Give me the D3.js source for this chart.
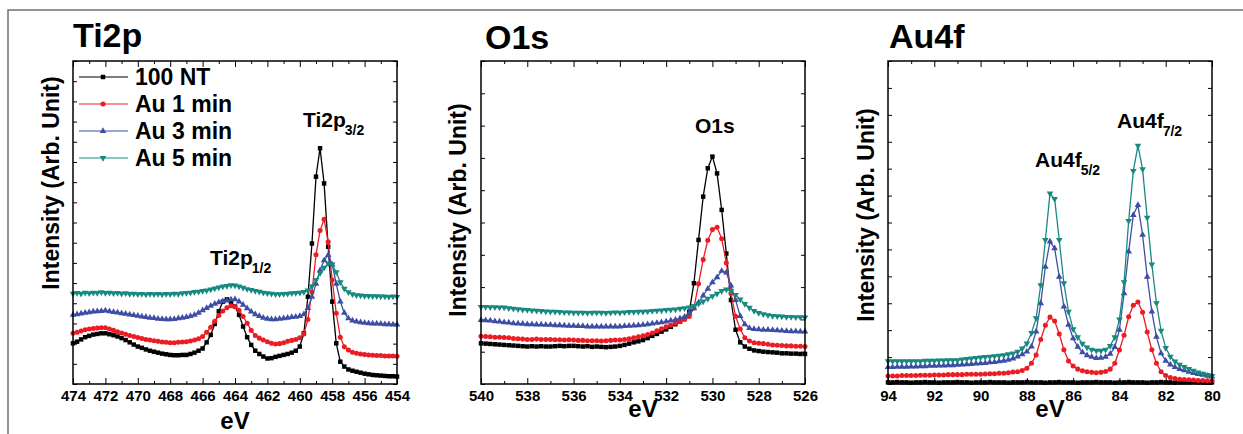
<!DOCTYPE html>
<html lang="en">
<head>
<meta charset="UTF-8">
<title>XPS spectra</title>
<script src="https://d3js.org/d3.v7.min.js"></script>
<style>
    body { margin: 0; background: #fff; }
    svg text { font-family: "Liberation Sans", Arial, sans-serif; font-weight: bold; }
    .tick line { stroke: #000; stroke-width: 1; }
    .box { fill: none; stroke: #000; stroke-width: 1.5; }
</style>
</head>
<body>
<svg id="fig" width="1243" height="434"></svg>
<script>
// series names + colours
const seriesNames = ["100 NT", "Au 1 min", "Au 3 min", "Au 5 min"];
const seriesColors = ["#000000", "#ec1c24", "#3d4ea6", "#178a80"];

// ---- Ti2p ----
const ti2pEnergy = [474,473.75,473.5,473.25,473,472.75,472.5,472.25,472,471.75,471.5,471.25,471,470.75,470.5,470.25,470,469.75,469.5,469.25,469,468.75,468.5,468.25,468,467.75,467.5,467.25,467,466.75,466.5,466.25,466,465.75,465.5,465.25,465,464.75,464.5,464.25,464,463.75,463.5,463.25,463,462.75,462.5,462.25,462,461.75,461.5,461.25,461,460.75,460.5,460.25,460,459.75,459.5,459.25,459,458.75,458.5,458.25,458,457.75,457.5,457.25,457,456.75,456.5,456.25,456,455.75,455.5,455.25,455,454.75,454.5,454.25,454];
const ti2p100NT = [12.6,13.1,13.8,14.5,14.9,15.3,15.5,15.7,15.7,15.4, 15.1,14.7,14.2,13.6,12.9,12.2,11.6,11.2,10.7,10.3, 10.0,9.7,9.4,9.2,9.0,8.9,8.9,9.0,9.0,9.3, 9.7,10.3,11.0,12.9,15.2,18.6,22.5,25.5,26.2,25.4, 24.0,21.4,17.8,14.5,12.1,10.3,9.3,8.5,7.9,8.0, 8.4,8.7,9.0,9.3,9.7,10.3,11.6,15.7,27.0,43.5, 64.2,73.0,62.1,42.5,25.5,12.6,6.9,5.4,4.5,4.1, 3.8,3.5,3.2,3.0,2.8,2.7,2.6,2.5,2.4,2.4,2.3];
const ti2pAu1 = [15.7,16.0,16.4,16.8,17.0,17.2,17.3,17.4,17.4,17.0, 16.6,16.2,15.8,15.4,15.0,14.7,14.4,14.1,13.8,13.6, 13.4,13.2,13.0,12.9,12.8,12.8,12.9,13.0,13.1,13.3, 13.6,14.0,14.7,16.0,17.6,19.4,21.2,22.6,23.6,24.2, 24.0,22.8,20.9,18.8,16.6,15.0,14.2,13.6,13.1,12.6, 12.4,12.5,12.8,13.2,13.5,13.8,14.3, 15.5,20.0,28.5,40.0,47.5,51.0,44.0,32.2,21.9,14.5,11.5,10.5,9.8, 9.5,9.3,9.1,9.0,8.9,8.8,8.8,8.7,8.7,8.7,8.6];
const ti2pAu3 = [21.4,21.6,21.8,22.0,22.2,22.4,22.5,22.6,22.7,22.5, 22.3,22.1,21.9,21.7,21.5,21.3,21.1,20.9,20.7,20.5, 20.4,20.2,20.1,20.0,20.0,20.1,20.3,20.5,20.7,21.0, 21.4,22.0,22.8,23.5,24.2,24.8,25.3,25.6,25.8,26.1, 26.2,25.5,24.5,23.4,22.4,21.6,21.0,20.5,20.2,20.0, 20.0,20.2,20.3,20.5,20.7,20.8,21.0, 21.6,23.5,27.0,31.0,35.2,38.3,39.9,37.0,31.0,25.5,22.0,20.3,19.6, 19.3,19.1,18.9,18.8,18.7,18.7,18.6,18.5,18.5,18.4,18.4];
const ti2pAu5 = [28.0,28.2,28.0,28.3,28.1,28.3,28.2,28.4,28.2,28.3, 28.1,28.2,28.0,28.1,27.9,28.0,27.8,27.9,27.7,27.9, 27.8,27.9,27.7,27.9,27.8,28.0,27.9,28.1,28.2,28.3, 28.5,28.6,28.8,29.0,29.3,29.6,29.9,30.2,30.4,30.6, 30.5,30.2,29.8,29.4,29.1,28.8,28.6,28.3,28.1,28.0, 27.8,27.8,27.9,28.0,28.1,28.2,28.3,28.5,29.0,30.3, 32.2,34.3,36.0,37.3,37.0,34.6,31.5,29.5,28.4,27.8, 27.5,27.4,27.3,27.3,27.2,27.2,27.1,27.1,27.0,27.1,27.0];
const ti2pMajorTicks = [474,472,470,468,466,464,462,460,458,456,454];
const ti2pMinorTicks = [473,471,469,467,465,463,461,459,457,455];

// ---- O1s ----
const o1sEnergy = [540,539.8,539.6,539.4,539.2,539,538.8,538.6,538.4,538.2,538,537.8,537.6,537.4,537.2,537,536.8,536.6,536.4,536.2,536,535.8,535.6,535.4,535.2,535,534.8,534.6,534.4,534.2,534,533.8,533.6,533.4,533.2,533,532.8,532.6,532.4,532.2,532,531.8,531.6,531.4,531.2,531,530.8,530.6,530.4,530.2,530,529.8,529.6,529.4,529.2,529,528.8,528.6,528.4,528.2,528,527.8,527.6,527.4,527.2,527,526.8,526.6,526.4,526.2,526];
const o1s100NT = [12.6,12.5,12.4,12.3,12.2,12.1,12.0,11.9,11.8,11.7, 11.6,11.7,11.6,11.7,11.6,11.6,11.7,11.8,11.7,11.8, 11.8,11.7,11.6,11.7,11.5,11.6,11.5,11.4,11.5,11.6, 11.8,12.1,12.5,12.9,13.2,13.6,14.2,14.9,15.5,16.2, 16.9,17.7,18.5,19.3,20.4,22.4,31.2,44.6,58.0,66.8, 70.4,65.2,53.9,40.4,26.0,16.8,12.9,11.6,10.9,10.4, 10.2,10.0,9.9,9.8,9.7,9.5,9.5,9.4,9.4,9.3,9.3];
const o1sAu1 = [14.8,14.7,14.6,14.5,14.5,14.4,14.3,14.1,14.0,13.9, 13.8,13.8,13.9,13.8,13.8,13.8,13.7,13.7,13.6,13.7, 13.6,13.5,13.5,13.4,13.4,13.4,13.3,13.4,13.5,13.6, 13.6,13.8,14.0,14.3,14.6,14.9,15.3,15.8,16.5,17.1, 17.7,18.2,18.8,19.3,20.0,20.9,23.5,31.0,38.5,44.5, 47.8,48.5,45.0,37.5,28.0,21.0,17.0,14.3,13.3,12.8, 12.6,12.5,12.3,12.1,12.0,11.9,11.8,11.8,11.7,11.7,11.6];
const o1sAu3 = [19.8,19.7,19.6,19.4,19.3,19.1,19.0,18.8,18.7,18.6, 18.5,18.5,18.4,18.4,18.3,18.3,18.2,18.2,18.1,18.0, 18.0,17.9,17.9,17.8,17.8,17.8,17.8,17.8,17.8,17.8, 17.8,17.9,18.0,18.1,18.2,18.3,18.5,18.7,18.9,19.1, 19.3,19.6,19.9,20.3,20.8,21.9,23.4,25.2,27.4,29.5, 31.5,33.0,35.0,34.5,30.5,26.0,21.0,18.5,17.3,17.0, 16.9,16.8,16.8,16.7,16.6,16.5,16.4,16.3,16.3,16.2,16.2];
const o1sAu5 = [23.9,23.9,23.8,23.8,23.7,23.7,23.5,23.3,23.2,23.0, 22.9,22.8,22.7,22.6,22.5,22.4,22.4,22.3,22.2,22.2, 22.1,22.1,22.1,22.0,22.1,22.1,22.1,22.0,22.1,22.2, 22.1,22.2,22.3,22.3,22.4,22.4,22.5,22.6,22.7,22.8, 22.9,23.0,23.1,23.3,23.5,23.7,24.2,24.9,25.6,26.4, 27.2,28.0,28.8,29.3,28.8,27.6,26.2,24.8,23.6,22.6, 22.0,21.6,21.3,21.1,21.0,20.9,20.8,20.8,20.7,20.7,20.6];
const o1sMajorTicks = [540,538,536,534,532,530,528,526];
const o1sMinorTicks = [539,537,535,533,531,529,527];

// ---- Au4f ----
const au4fEnergy = [94,93.8,93.6,93.4,93.2,93,92.8,92.6,92.4,92.2,92,91.8,91.6,91.4,91.2,91,90.8,90.6,90.4,90.2,90,89.8,89.6,89.4,89.2,89,88.8,88.6,88.4,88.2,88,87.8,87.6,87.4,87.2,87,86.8,86.6,86.4,86.2,86,85.8,85.6,85.4,85.2,85,84.8,84.6,84.4,84.2,84,83.8,83.6,83.4,83.2,83,82.8,82.6,82.4,82.2,82,81.8,81.6,81.4,81.2,81,80.8,80.6,80.4,80.2,80];
const au4f100NT = [0.5,0.5,0.6,0.5,0.5,0.4,0.5,0.5,0.6,0.5, 0.5,0.4,0.5,0.5,0.5,0.6,0.5,0.5,0.4,0.5, 0.5,0.5,0.6,0.5,0.5,0.5,0.4,0.5,0.5,0.5, 0.6,0.5,0.5,0.5,0.4,0.5,0.5,0.6,0.5,0.5, 0.5,0.4,0.5,0.5,0.5,0.6,0.5,0.5,0.5,0.4, 0.5,0.5,0.6,0.5,0.5,0.5,0.4,0.5,0.5,0.6, 0.5,0.5,0.4,0.5,0.5,0.5,0.6,0.5,0.5,0.4,0.5];
const au4fAu1 = [2.5,2.5,2.5,2.6,2.6,2.6,2.6,2.7,2.7,2.7, 2.8,2.8,2.8,2.9,2.9,2.9,2.9,3.0,3.0,3.0, 3.0,3.1,3.2,3.2,3.3,3.3,3.5,3.7,3.8,4.2, 4.9,6.4,9.0,13.8,18.2,20.7,19.5,15.5,10.6,7.1, 5.6,4.6,4.1,3.8,3.6,3.5,3.6,3.9,4.6,6.4, 10.5,15.1,20.8,24.4,25.4,22.2,16.1,10.6,6.4,3.8, 2.6,2.0,1.7,1.5,1.4,1.3,1.2,1.1,1.1,1.0,1.0];
const au4fAu3 = [5.2,5.2,5.3,5.3,5.3,5.4,5.4,5.5,5.5,5.6, 5.6,5.7,5.7,5.8,5.8,5.9,6.0,6.1,6.2,6.3, 6.4,6.5,6.7,6.8,7.0,7.2,7.5,7.9,8.5,9.2, 10.0,11.6,16.2,25.0,36.3,44.1,42.0,33.2,24.0,18.3, 14.1,11.5,9.8,8.9,8.4,8.0,8.1,8.4,9.3,11.4, 16.8,28.1,41.0,52.3,55.4,46.2,33.2,22.4,14.6,9.5, 7.2,6.0,5.2,4.6,4.2,3.8,3.4,3.1,2.8,2.5,2.3];
const au4fAu5 = [7.1,7.1,7.1,7.1,7.1,7.1,7.1,7.1,7.2,7.2, 7.2,7.3,7.3,7.4,7.4,7.4,7.6,7.8,7.9,8.1, 8.2,8.4,8.5,8.6,8.8,8.9,9.2,9.5,10.0,11.0, 12.6,15.8,20.4,30.6,44.6,59.0,57.3,44.6,31.2,22.4, 17.0,14.5,12.5,11.3,10.6,10.3,10.3,10.6,11.8,14.5, 20.0,31.5,50.5,66.0,73.8,66.5,51.5,37.0,25.0,16.5, 11.2,8.5,7.0,6.0,5.3,4.7,4.1,3.6,3.2,2.8,2.5];
const au4fMajorTicks = [94,92,90,88,86,84,82,80];
const au4fMinorTicks = [93,91,89,87,85,83,81];

const panels = [
    {title: "Ti2p", energy: ti2pEnergy, series: [ti2p100NT, ti2pAu1, ti2pAu3, ti2pAu5],
     major: ti2pMajorTicks, minor: ti2pMinorTicks, left: 73, right: 397, yStep: 6.25,
     titleX: 73, titleY: 47, labelX: 51, labelY: 183, evY: 429,
     notes: [{x: 303, y: 127, main: "Ti2p", sub: "3/2"}, {x: 210, y: 265, main: "Ti2p", sub: "1/2"}]},
    {title: "O1s", energy: o1sEnergy, series: [o1s100NT, o1sAu1, o1sAu3, o1sAu5],
     major: o1sMajorTicks, minor: o1sMinorTicks, left: 481, right: 805, yStep: 10,
     titleX: 485, titleY: 49, labelX: 458, labelY: 210, evY: 417,
     notes: [{x: 695, y: 133, main: "O1s", sub: ""}]},
    {title: "Au4f", energy: au4fEnergy, series: [au4f100NT, au4fAu1, au4fAu3, au4fAu5],
     major: au4fMajorTicks, minor: au4fMinorTicks, left: 888, right: 1212, yStep: 100 / 12,
     titleX: 889, titleY: 48, labelX: 866, labelY: 215, evY: 417,
     notes: [{x: 1035, y: 167, main: "Au4f", sub: "5/2"}, {x: 1117, y: 128, main: "Au4f", sub: "7/2"}]}
];
const plotTop = 61, plotBottom = 384;

const svg = d3.select("#fig");

// outer frame (top + left only)
svg.append("path").attr("d", "M8,434V10H1243")
    .attr("fill", "none").attr("stroke", "#707070").attr("stroke-width", 1.5);

function marker(i) {
    const types = [d3.symbolSquare, d3.symbolCircle, d3.symbolTriangle, d3.symbolTriangle];
    const sizes = [20, 20, 19, 19];
    return d3.symbol().type(types[i]).size(sizes[i])();
}
function markerRot(i) { return i === 3 ? " rotate(180)" : ""; }

panels.forEach(function (p) {
    const x = d3.scaleLinear().domain([p.major[0], p.major[p.major.length - 1]]).range([p.left, p.right]);
    const y = d3.scaleLinear().domain([0, 100]).range([plotBottom, plotTop]);
    const g = svg.append("g");

    // ticks, all pointing inward
    const bottom = g.append("g").attr("transform", `translate(0,${plotBottom})`)
        .call(d3.axisBottom(x).tickValues(p.major).tickSizeInner(-6).tickSizeOuter(0).tickPadding(6).tickFormat(d3.format("d")));
    bottom.attr("font-size", 15).select(".domain").remove();
    g.append("g").attr("transform", `translate(0,${plotBottom})`)
        .call(d3.axisBottom(x).tickValues(p.minor).tickSizeInner(-3).tickSizeOuter(0).tickFormat(""))
        .select(".domain").remove();
    g.append("g").attr("transform", `translate(0,${plotTop})`)
        .call(d3.axisTop(x).tickValues(p.major).tickSizeInner(-6).tickSizeOuter(0).tickFormat(""))
        .select(".domain").remove();
    g.append("g").attr("transform", `translate(0,${plotTop})`)
        .call(d3.axisTop(x).tickValues(p.minor).tickSizeInner(-3).tickSizeOuter(0).tickFormat(""))
        .select(".domain").remove();
    const yTicks = d3.range(0, 100.01, p.yStep);
    g.append("g").attr("transform", `translate(${p.left},0)`)
        .call(d3.axisLeft(y).tickValues(yTicks).tickSizeInner(-4).tickSizeOuter(0).tickFormat(""))
        .select(".domain").remove();
    g.append("g").attr("transform", `translate(${p.right},0)`)
        .call(d3.axisRight(y).tickValues(yTicks).tickSizeInner(-4).tickSizeOuter(0).tickFormat(""))
        .select(".domain").remove();

    // data
    p.series.forEach(function (vals, i) {
        const pts = p.energy.map((e, k) => [e, vals[k]]);
        g.append("path").datum(pts)
            .attr("fill", "none").attr("stroke", seriesColors[i]).attr("stroke-width", 1.3)
            .attr("d", d3.line().x(d => x(d[0])).y(d => y(d[1])));
        g.append("g").selectAll("path").data(pts).join("path")
            .attr("d", marker(i))
            .attr("transform", d => `translate(${x(d[0])},${y(d[1])})${markerRot(i)}`)
            .attr("fill", seriesColors[i]);
    });

    g.append("rect").attr("class", "box")
        .attr("x", p.left).attr("y", plotTop)
        .attr("width", p.right - p.left).attr("height", plotBottom - plotTop);

    // texts
    g.append("text").attr("x", p.titleX).attr("y", p.titleY).attr("font-size", 34).text(p.title);
    g.append("text").attr("transform", `translate(${p.labelX},${p.labelY}) rotate(-90)`)
        .attr("text-anchor", "middle").attr("dy", "0.36em").attr("font-size", 23)
        .text("Intensity (Arb. Unit)");
    g.append("text").attr("x", (p.left + p.right) / 2).attr("y", p.evY)
        .attr("text-anchor", "middle").attr("font-size", 24).text("eV");
    p.notes.forEach(function (n) {
        const t = g.append("text").attr("x", n.x).attr("y", n.y).attr("font-size", 21).text(n.main);
        if (n.sub) t.append("tspan").attr("dx", -1).attr("dy", 8).attr("font-size", 14).text(n.sub);
    });
});

// legend (Ti2p panel)
const legend = svg.append("g");
seriesNames.forEach(function (name, i) {
    const ly = 77 + i * 27;
    legend.append("line").attr("x1", 79).attr("x2", 128).attr("y1", ly).attr("y2", ly)
        .attr("stroke", seriesColors[i]).attr("stroke-width", 1.2);
    legend.append("path").attr("d", marker(i))
        .attr("transform", `translate(103,${ly})${markerRot(i)}`).attr("fill", seriesColors[i]);
    legend.append("text").attr("x", 135).attr("y", ly).attr("dy", "0.36em")
        .attr("font-size", 23).text(name);
});
</script>
</body>
</html>
